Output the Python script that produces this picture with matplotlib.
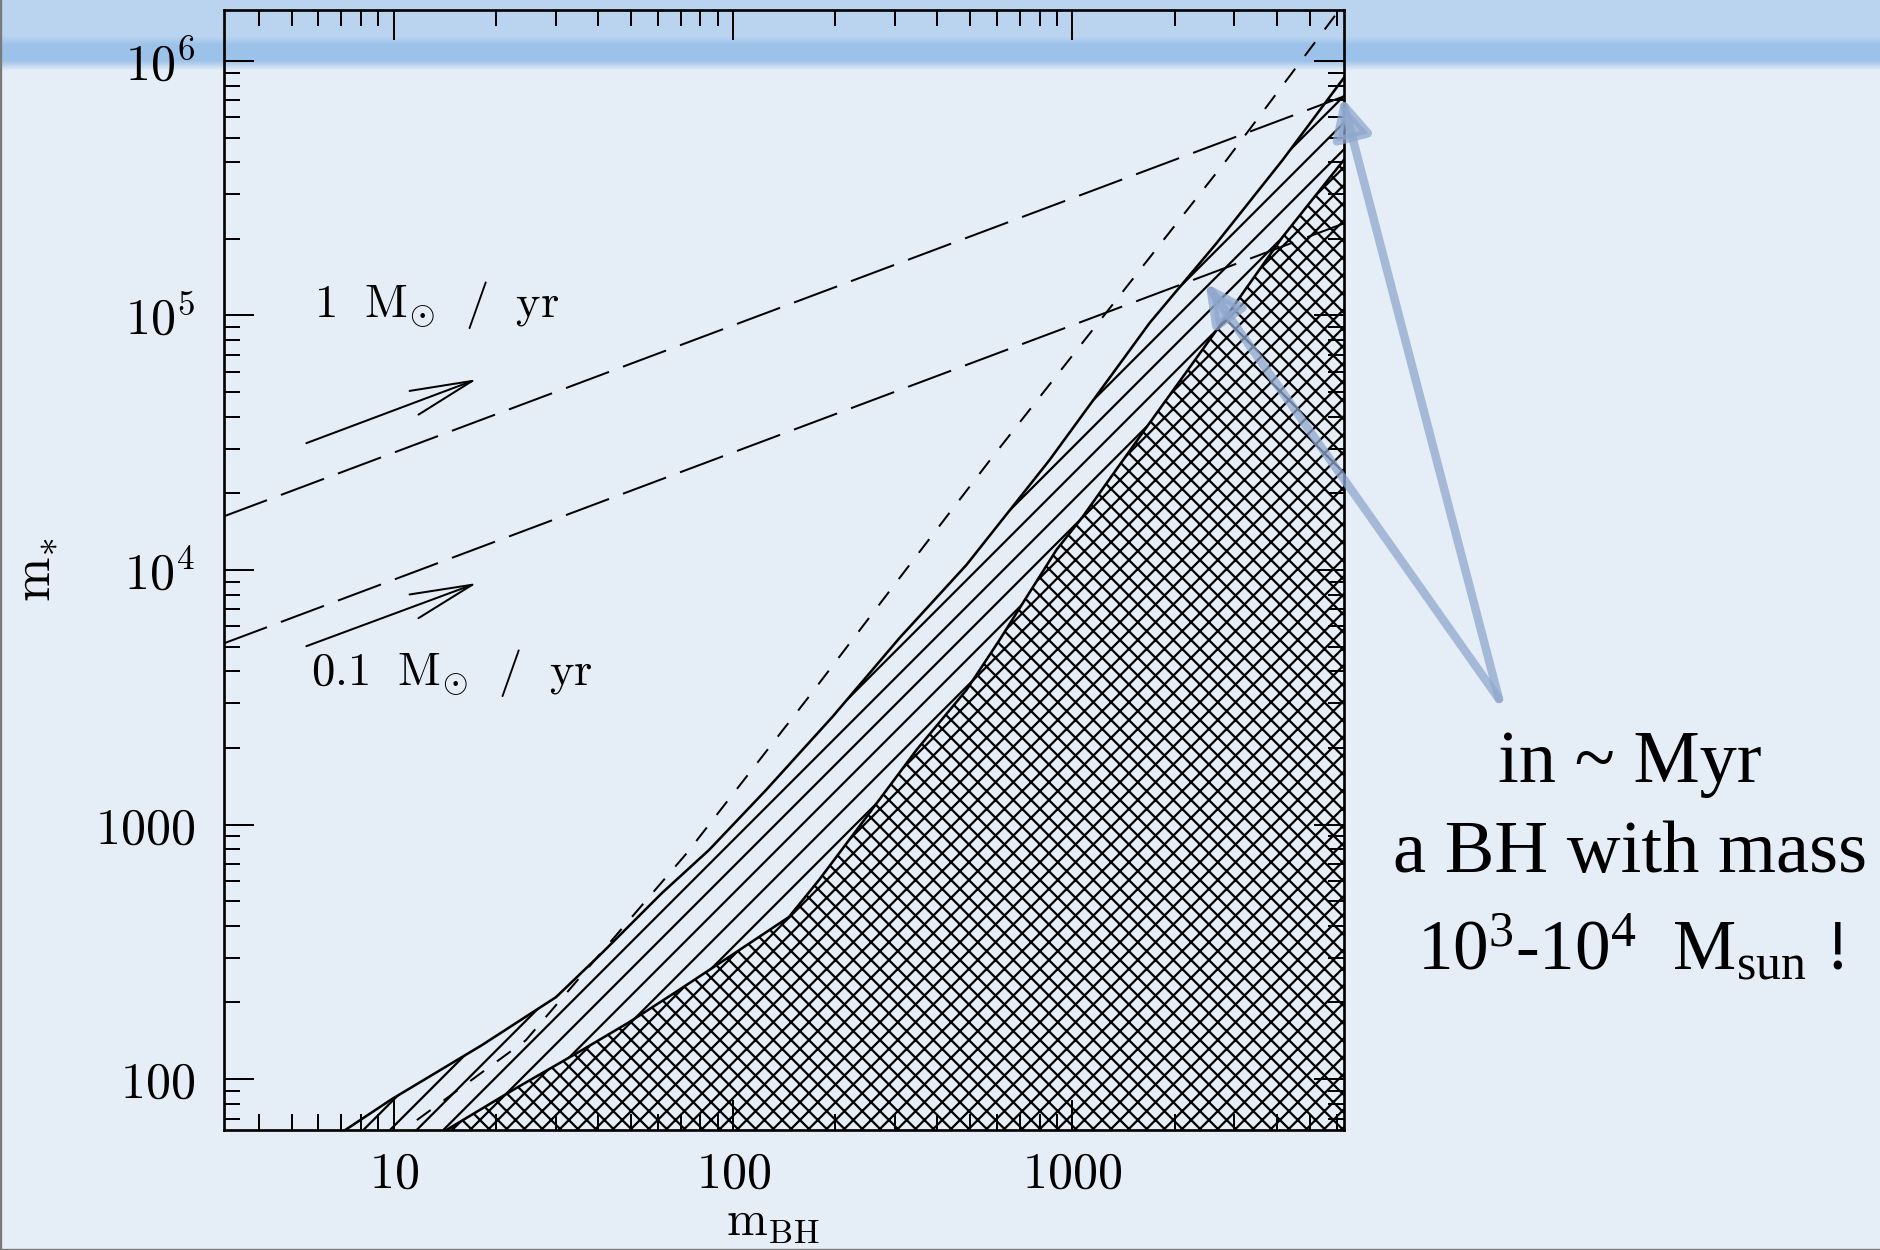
import numpy as np
import matplotlib
matplotlib.use('Agg')
import matplotlib.pyplot as plt
from matplotlib.ticker import FixedLocator, FixedFormatter, LogLocator, NullFormatter

# ---- data (m_BH, m_*) ----
# upper solid edge of the single-hatched band
upper_mbh = [7.2, 9.87, 18.2, 30.1, 41.1, 61.7, 84.9, 125, 196, 309, 487, 855, 1687, 2660, 4160, 6300]
upper_mstar = [63.1, 83.4, 136, 210, 313, 538, 794, 1366, 2645, 5400, 10470, 27000, 93400, 192600, 408000, 857000]

# lower solid edge (top of the cross-hatched region)
lower_mbh = [14.3, 22.9, 35.9, 49.3, 67.9, 97.3, 146, 179, 247, 347, 487, 609, 897, 1070, 1687, 2660, 4160, 6300]
lower_mstar = [63.1, 92, 130, 167, 220, 302, 433, 605, 1070, 1963, 3377, 5300, 12000, 16150, 37800, 87700, 203400, 408000]

# short-dashed curve
short_mbh = [11.7, 24.5, 73.1, 167, 354, 581, 1146, 2844, 6050]
short_mstar = [69, 142, 773, 3170, 11770, 27800, 87700, 408000, 1.557e6]

# long-dashed accretion-rate lines (end points)
rate_mbh = [3.16, 6310]
rate1_mstar = [16250, 726000]    # 1 Msun/yr
rate01_mstar = [5150, 230000]    # 0.1 Msun/yr

# small black arrows next to the rate labels
arrow_mbh = [5.53, 17.6]
arrow1_mstar = [31500, 56200]
arrow01_mstar = [5020, 8890]

# tips of the two slide callout arrows
callout_mbh = [6220, 2466]
callout_mstar = [7.2e5, 1.34e5]

xlim = (10 ** 0.5, 10 ** 3.8)
ylim = (10 ** 1.8, 10 ** 6.2)
xtick_vals = [10, 100, 1000]
xtick_labels = ['$10$', '$100$', '$1000$']
ytick_vals = [100, 1000, 1e4, 1e5, 1e6]
ytick_labels = ['$100$', '$1000$', '$10^4$', '$10^5$', '$10^6$']

plt.rcParams['mathtext.fontset'] = 'cm'
plt.rcParams['mathtext.rm'] = 'Liberation Serif'
plt.rcParams['mathtext.it'] = 'Liberation Serif:italic'
plt.rcParams['mathtext.bf'] = 'Liberation Serif:bold'
plt.rcParams['hatch.linewidth'] = 1.0
plt.rcParams['lines.scale_dashes'] = False

W, H = 1880, 1250
fig = plt.figure(figsize=(W / 160, H / 160), dpi=160)

# slide background: paper colour with a blue band on top
bg = fig.add_axes([0, 0, 1, 1], zorder=-10)
paper = np.array([229, 237, 246]) / 255
band1 = np.array([186, 212, 239]) / 255
band2 = np.array([157, 194, 233]) / 255
knots = [0, 36, 44, 60, 70, H]
rows = np.arange(H)
img = np.stack([np.interp(rows, knots, [band1[c], band1[c], band2[c], band2[c], paper[c], paper[c]])
                for c in range(3)], axis=-1)[:, None, :]
bg.imshow(img, aspect='auto', extent=[0, 1, 0, 1], origin='upper')
bg.axis('off')
fig.add_artist(plt.Line2D([0, 0, 1], [1, 0, 0], transform=fig.transFigure, color='#7a7a7a', lw=1.5))

ax = fig.add_axes([224 / W, 1 - 1130 / H, 1120 / W, 1120 / H])
ax.patch.set_alpha(0)
ax.set_xscale('log')
ax.set_yscale('log')
ax.set_xlim(*xlim)
ax.set_ylim(*ylim)

band_x = np.r_[upper_mbh, lower_mbh[::-1]]
band_y = np.r_[upper_mstar, lower_mstar[::-1]]
ax.fill(band_x, band_y, facecolor='none', edgecolor='black', hatch='//', linewidth=0)
ax.fill_between(lower_mbh, lower_mstar, ylim[0], facecolor='none', edgecolor='black',
                hatch='xxx', linewidth=0)
ax.plot(upper_mbh, upper_mstar, color='k', lw=1.15)
ax.plot(lower_mbh, lower_mstar, color='k', lw=1.15)

ax.plot(short_mbh, short_mstar, color='k', lw=0.9, dashes=(7.7, 7.2))
ax.plot(rate_mbh, rate1_mstar, color='k', lw=0.9, dashes=(20.7, 6.7))
ax.plot(rate_mbh, rate01_mstar, color='k', lw=0.9, dashes=(20.7, 6.7))

for ys in (arrow1_mstar, arrow01_mstar):
    ax.annotate('', xy=(arrow_mbh[1], ys[1]), xytext=(arrow_mbh[0], ys[0]),
                arrowprops=dict(arrowstyle='->,head_length=2.8,head_width=0.57', mutation_scale=10,
                                lw=0.9, color='k', shrinkA=0, shrinkB=0))

ax.text(5.81, 98700, r'$1\ \ \mathrm{M}_{\odot}\ \ /\ \ \mathrm{yr}$', fontsize=21, va='baseline')
ax.text(5.69, 3530, r'$0.1\ \ \mathrm{M}_{\odot}\ \ /\ \ \mathrm{yr}$', fontsize=21, va='baseline')

ax.xaxis.set_major_locator(FixedLocator(xtick_vals))
ax.xaxis.set_major_formatter(FixedFormatter(xtick_labels))
ax.yaxis.set_major_locator(FixedLocator(ytick_vals))
ax.yaxis.set_major_formatter(FixedFormatter(ytick_labels))
for axis in (ax.xaxis, ax.yaxis):
    axis.set_minor_locator(LogLocator(base=10, subs=np.arange(2, 10), numticks=100))
    axis.set_minor_formatter(NullFormatter())
ax.tick_params(which='both', direction='in', top=True, right=True, width=0.9, labelsize=22.5)
ax.tick_params(which='major', length=13.5)
ax.tick_params(which='minor', length=7.2)
ax.tick_params(axis='x', pad=9)
ax.tick_params(axis='y', pad=13)
for sp in ax.spines.values():
    sp.set_linewidth(1.2)

ax.set_xlabel(r'$\mathrm{m}_{\mathrm{BH}}$', fontsize=22)
ax.xaxis.set_label_coords(0.49, -0.061)
ax.set_ylabel(r'$\mathrm{m}_{*}$', fontsize=24)
ax.yaxis.set_label_coords(-0.146, 0.5)

# slide callout
for x, y in zip(callout_mbh, callout_mstar):
    ax.annotate('', xy=(x, y), xytext=(1499 / W, 1 - 699 / H), textcoords='figure fraction',
                arrowprops=dict(arrowstyle='-|>,head_length=0.4,head_width=0.2', mutation_scale=36,
                                lw=3.8, color='#8fa7cd', alpha=0.75, shrinkA=0, shrinkB=0),
                annotation_clip=False)

cx = 1630 / W
fig.text(cx, 1 - 782 / H, 'in ~ Myr', fontsize=33.5, family='Liberation Serif', ha='center', va='baseline')
fig.text(cx, 1 - 872 / H, 'a BH with mass', fontsize=33.5, family='Liberation Serif', ha='center', va='baseline')
fig.text(cx, 1 - 970 / H, r'$10^3$-$10^4$  $\mathrm{M_{sun}}$ !', fontsize=32, family='Liberation Serif',
         math_fontfamily='custom', ha='center', va='baseline')

fig.savefig('out.png', dpi=160)
